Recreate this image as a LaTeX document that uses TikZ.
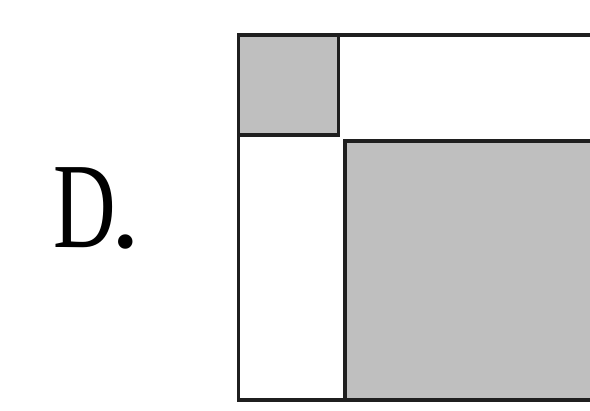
\documentclass[tikz,border=0pt]{standalone}
\usepackage{fontspec}
\setmainfont{Liberation Serif}
\definecolor{boxgray}{RGB}{191,191,191}
\begin{document}
\begin{tikzpicture}[x=1pt,y=-1pt,
  edge/.style={line width=3.8pt, draw=black!88, line join=miter, line cap=rect},
  optlabel/.style={anchor=base west, inner sep=0pt, font=\fontsize{122}{122}\selectfont}]
\useasboundingbox (0,0) rectangle (590,411);
\begin{scope}
\clip (0,0) rectangle (590,411);
\fill[boxgray] (238.5,35) rectangle (338.5,135);
\fill[boxgray] (345,141) rectangle (600,400);
\draw[edge] (600,35) -- (238.5,35) -- (238.5,400) -- (600,400);
\draw[edge] (338.5,35) -- (338.5,135) -- (238.5,135);
\draw[edge] (345,400) -- (345,141) -- (600,141);
\end{scope}
\node[optlabel] (label) at (53,248) {\scalebox{0.71}[1]{D}\hspace{-5pt}.};
\end{tikzpicture}
\end{document}
